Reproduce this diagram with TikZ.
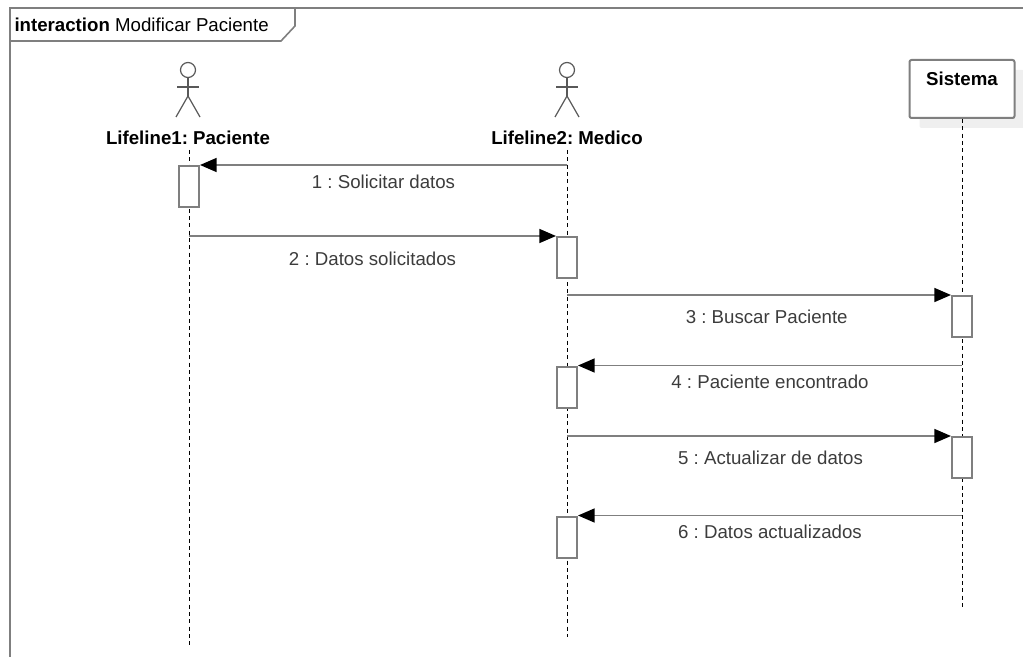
\documentclass[tikz,border=0pt]{standalone}
\usepackage{fontspec}
\setmainfont{Liberation Sans}
\usetikzlibrary{positioning,calc}
\usetikzlibrary{arrows.meta}
\usetikzlibrary{shadows}

\definecolor{linegray}{HTML}{7F7F7F}
\definecolor{textgray}{HTML}{3C3C3C}
\definecolor{shadowgray}{HTML}{EFEFEF}
\frenchspacing

\begin{document}
\begin{tikzpicture}[x=0.75pt, y=-0.75pt, thick,
  font=\fontsize{14}{17}\selectfont,
  frame/.style={draw=linegray, line width=1.2pt},
  actor/.style={draw=black!65, line width=0.9pt},
  lifeline/.style={draw=black, line width=0.7pt, dash pattern=on 3pt off 2.5pt},
  activation/.style={draw=linegray, line width=1.5pt, fill=white, inner sep=0pt, minimum width=15pt, minimum height=30.75pt},
  msg/.style={draw=linegray, line width=1.2pt, -{Triangle[length=12.5pt, width=10.5pt, black]}},
  msglabel/.style={text=textgray},
  sysbox/.style={draw=linegray, line width=1.5pt, fill=white, rounded corners=1.5pt, minimum width=78.75pt, minimum height=43.5pt,
    drop shadow={shadow xshift=7.5pt, shadow yshift=-7.5pt, fill=shadowgray, opacity=1}}]
\useasboundingbox (0,0) rectangle (1023,656);
\clip (0,0) rectangle (1023,656);

% frame
\draw [frame] (10,8) rectangle (1040,680);
\draw [frame] (10,41) -- (281,41) -- (295,26) -- (295,8);
\node [anchor=west, inner sep=0pt] (title) at (14,25) {\textbf{interaction} Modificar Paciente};

% actors
\foreach \x in {188, 567} {
  \draw [actor] (\x,70) circle (7.5);
  \draw [actor] (\x,77.5) -- (\x,96) (\x-11,87) -- (\x+11,87);
  \draw [actor] (\x-12,117) -- (\x,96) -- (\x+12,117);
}
\node [font=\fontsize{14}{17}\bfseries] (paciente) at (188,138) {Lifeline1: Paciente};
\node [font=\fontsize{14}{17}\bfseries] (medico) at (567,138) {Lifeline2: Medico};
\node [sysbox, label={[font=\fontsize{14}{17}\bfseries, yshift=7.5pt]center:Sistema}] (sis) at (962,89) {};

% lifelines
\coordinate (lp) at (189,150);
\coordinate (lm) at (567,150);
\coordinate (ls) at (sis.south);
\coordinate (lp end) at (189,646);
\coordinate (lm end) at (567,637);
\coordinate (ls end) at (962,609);
\draw [lifeline] (lp) -- (lp end);
\draw [lifeline] (lm) -- (lm end);
\draw [lifeline] (ls) -- (ls end);

% activations
\node [activation] (a1) at (189,186.5) {};
\node [activation] (a2) at (567,257.5) {};
\node [activation] (a3) at (962,316.5) {};
\node [activation] (a4) at (567,387) {};
\node [activation] (a5) at (962,457.5) {};
\node [activation] (a6) at (567,537) {};

% messages
\draw [msg] (lm |- a1.north) -- (a1.north east) node [msglabel, midway, yshift=-12.75pt] {1 : Solicitar datos};
\draw [msg] (lp |- a2.north) -- (a2.north west) node [msglabel, midway, yshift=-17pt] {2 : Datos solicitados};
\draw [msg] (lm |- a3.north) -- (a3.north west) node [msglabel, pos=0.52, yshift=-16pt] {3 : Buscar Paciente};
\draw [msg] (ls |- a4.north) -- (a4.north east) node [msglabel, midway, yshift=-12pt] {4 : Paciente encontrado};
\draw [msg] (lm |- a5.north) -- (a5.north west) node [msglabel, pos=0.53, yshift=-16pt] {5 : Actualizar de datos};
\draw [msg] (ls |- a6.north) -- (a6.north east) node [msglabel, midway, yshift=-12pt] {6 : Datos actualizados};
\end{tikzpicture}
\end{document}
